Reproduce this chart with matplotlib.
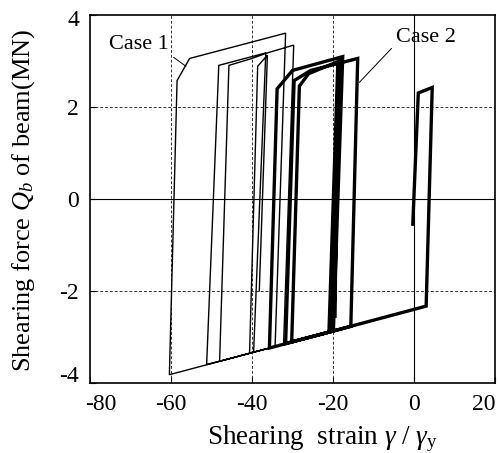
import matplotlib
matplotlib.use("Agg")
import matplotlib.pyplot as plt
from matplotlib.transforms import ScaledTranslation

plt.rcParams['font.family'] = ['Liberation Serif', 'DejaVu Serif']
plt.rcParams['mathtext.fontset'] = 'custom'
plt.rcParams['mathtext.rm'] = 'Liberation Serif'
plt.rcParams['mathtext.it'] = 'Liberation Serif:italic'

# Case 1 (thin line) path
case1_x = [-0.3, 1.06, 4.5, 3.0, -60.4, -58.5, -55.4, -31.7, -34.3, -51.2, -48.2,
           -36.6, -39.6, -48.0, -45.7, -40.0, -36.6, -29.7, -32.2, -40.6, -38.6,
           -36.2, -38.2]
case1_y = [-0.55, 2.30, 2.42, -2.33, -3.82, 2.57, 3.05, 3.60, -3.21, -3.60, 2.90,
           3.17, -3.33, -3.53, 2.90, 3.05, 3.16, 3.34, -3.16, -3.35, 2.88,
           3.12, -2.00]

# Case 2 (thick line) path
case2_x = [-0.3, 1.06, 4.5, 3.0, -35.7, -33.8, -30.0, -17.6, -19.9, -31.7, -29.6,
           -25.5, -13.9, -15.6, -30.2, -28.3, -26.0, -18.3, -20.6, -21.0, -18.8,
           -19.5]
case2_y = [-0.55, 2.30, 2.42, -2.33, -3.24, 2.39, 2.79, 3.09, -2.87, -3.14, 2.57,
           2.79, 3.05, -2.77, -3.11, 2.45, 2.72, 3.00, -2.88, -2.89, 2.98,
           -2.55]

xticks = [-80, -60, -40, -20, 0, 20]
yticks = [-4, -2, 0, 2, 4]

fig = plt.figure(figsize=(5.0, 4.53), dpi=100)
ax = fig.add_axes([0.18, 0.1545, 0.81, 0.813])
ax.set_xlim(-80, 20)
ax.set_ylim(-4, 4)

for gx in [-60, -40, -20]:
    ax.axvline(gx, color='#333333', lw=0.7, ls=(0, (3, 2)), zorder=1)
for gy in [-2, 2]:
    ax.axhline(gy, color='#333333', lw=0.7, ls=(0, (3, 2)), zorder=1)
ax.axvline(0, color='black', lw=0.8, zorder=1)
ax.axhline(0, color='black', lw=0.8, zorder=1)

ax.plot(case1_x, case1_y, color='black', lw=1.0, zorder=3, solid_joinstyle='miter')
ax.plot(case2_x, case2_y, color='black', lw=2.4, zorder=4, solid_joinstyle='miter')

ax.set_xticks(xticks)
ax.set_yticks(yticks)
ax.set_xticklabels([str(v) for v in xticks])
ax.set_yticklabels([str(v) for v in yticks])
ax.tick_params(direction='in', length=4, width=0.8, labelsize=17)
ax.tick_params(axis='x', pad=8)
ax.tick_params(axis='y', pad=8)
for s in ax.spines.values():
    s.set_linewidth(1.2)

# nudge edge tick labels inward like the reference
xl = ax.get_xticklabels()
xl[0].set_transform(xl[0].get_transform() + ScaledTranslation(0.11, 0, fig.dpi_scale_trans))
xl[-1].set_transform(xl[-1].get_transform() + ScaledTranslation(-0.11, 0, fig.dpi_scale_trans))
yl = ax.get_yticklabels()
yl[0].set_transform(yl[0].get_transform() + ScaledTranslation(0, 0.09, fig.dpi_scale_trans))
yl[-1].set_transform(yl[-1].get_transform() + ScaledTranslation(0, -0.03, fig.dpi_scale_trans))

ax.set_xlabel(r'Shearing  strain $\mathit{\gamma}$ / $\mathit{\gamma}_{\rm y}$', fontsize=19.5)
ax.set_ylabel(r'Shearing force $Q_b$ of beam(MN)', fontsize=19)
ax.xaxis.set_label_coords(0.573, -0.11)
ax.yaxis.set_label_coords(-0.13, 0.495)

ax.annotate('Case 1', xy=(-56.3, 2.88), xytext=(-68.0, 3.36), fontsize=16,
            ha='center', va='center',
            arrowprops=dict(arrowstyle='-', lw=0.7, color='black',
                            shrinkA=2, shrinkB=0, relpos=(1.0, 0.0)))
ax.annotate('Case 2', xy=(-13.5, 2.53), xytext=(3.0, 3.5), fontsize=16,
            ha='center', va='center',
            arrowprops=dict(arrowstyle='-', lw=0.7, color='black',
                            shrinkA=2, shrinkB=0, relpos=(0.0, 0.2)))

fig.savefig('out.png', dpi=100)
